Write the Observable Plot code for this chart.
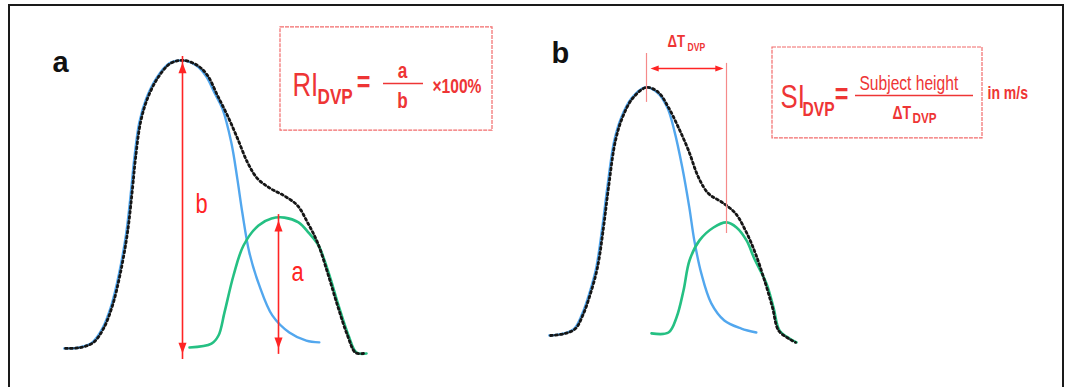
<!DOCTYPE html>
<html>
<head>
<meta charset="utf-8">
<script src="https://cdn.jsdelivr.net/npm/d3@7"></script>
<script src="https://cdn.jsdelivr.net/npm/@observablehq/plot@0.6"></script>
<style>
  html, body { margin: 0; padding: 0; background: #fff; }
  #wrap { position: relative; width: 1065px; height: 387px; overflow: hidden; }
  #frame { position: absolute; left: 8px; top: 4px; width: 1056px; height: 420px;
           border: 2px solid #1a1a1a; box-sizing: border-box; pointer-events: none; }
  #chart { position: absolute; left: 0; top: 0; }
</style>
</head>
<body>
<div id="wrap"><div id="chart"></div><div id="frame"></div></div>
<script>
// ---- Data (time in ms, amplitude in arbitrary units) ----
// Panel a: whole digital volume pulse (black dotted)
const dvpA_t = [195,240,279,309,336,360,381,396,405,420,441,471,510,549,591,621,651,681,711,741,771,810,849,891,921,951,981,1011,1041,1065,1089];
const dvpA_v = [0.7,1.0,2.7,7.3,15,26,39.3,54,64,76,84,90.7,95.7,96.7,95,91.7,85,78.3,70.7,62.7,57.3,54,51.7,48.3,42.7,36,26,15,5,-0.7,-1];
// Panel a: forward (systolic) component (blue)
const fwdA_t = [195,240,279,309,336,360,381,396,405,420,441,471,510,549,591,621,645,669,696,714,729,750,780,819,870,921,960];
const fwdA_v = [0.7,1.0,2.7,7.3,15,26,39.3,54,64,76,84,90.7,95.7,96.7,95,91.3,86,80.7,69.3,57.3,46,32.7,21.7,11.7,6,3.3,2.7];
// Panel a: reflected (diastolic) component (green)
const refA_t = [564,630,651,669,696,726,771,810,849,891,921,951,981,1011,1041,1065,1095];
const refA_v = [1,2.3,5,12.7,25,35,41.7,44,44.3,42.7,39.3,35,26,15,5,-0.7,-1];

// Panel b: whole pulse (black dotted)
const dvpB_t = [1650,1695,1725,1749,1770,1791,1809,1824,1845,1866,1896,1938,1974,2004,2034,2064,2094,2124,2166,2205,2235,2265,2295,2316,2334,2364,2385];
const dvpB_v = [5,5.7,7.3,12.3,19,27.7,41,54.3,70,77.7,84,87.7,86,81,74.3,66.7,57.7,52.3,49.3,45.7,40,32.3,22.3,14.3,6.7,4,2.7];
// Panel b: forward component (blue)
const fwdB_t = [1650,1695,1725,1749,1770,1791,1809,1824,1845,1866,1896,1938,1974,2004,2025,2049,2070,2085,2106,2136,2175,2226,2271];
const fwdB_v = [5,5.7,7.3,12.3,19,27.7,41,54.3,70,77.7,84,87.7,86,81,73.3,61,47.7,36.7,25.7,15.7,10,7.3,6];
// Panel b: reflected component (green)
const refB_t = [1950,2001,2025,2046,2064,2094,2136,2175,2205,2235,2259,2295,2316,2334,2364,2385];
const refB_v = [5.7,6,11,20,30,36.7,41,42.7,41,36.7,30.5,22.3,14.3,6.7,4,2.7];

// Measured quantities
const riLabels = ["b", "a"];            // b = systolic peak height, a = diastolic peak height
const riTime   = [546, 834];
const riFrom   = [-1, 0.7];
const riTo     = [96, 43.3];
const dtPeaks  = [1938, 2178];          // systolic / diastolic peak times (panel b)
const dtTop    = [99, 95.7];
const dtBottom = [82.7, 39];

// ---- build tables ----
const zip = (ts, vs, series) => ts.map((t, i) => ({t, v: vs[i], series}));
const dvpA = zip(dvpA_t, dvpA_v, "a"), fwdA = zip(fwdA_t, fwdA_v, "a"), refA = zip(refA_t, refA_v, "a");
const dvpB = zip(dvpB_t, dvpB_v, "b"), fwdB = zip(fwdB_t, fwdB_v, "b"), refB = zip(refB_t, refB_v, "b");
const riArrows = riLabels.map((l, i) => ({l, t: riTime[i], y1: riFrom[i], y2: riTo[i]}));
const dtLines = dtPeaks.map((t, i) => ({t, y1: dtBottom[i], y2: dtTop[i]}));
const dtArrow = [{x1: 1950, x2: 2169, v: 94}];

// ---- styles ----
const RED = "#ff2424", TXT = "#ee3535", BOX = "#f26b6b", PALE = "#f58a8a";
const BLUE = "#52a7ee", GREEN = "#25c083", BLACK = "#161616";
const NARROW = "'Liberation Sans Narrow','Liberation Sans',Arial,sans-serif";
const SANS = "'Liberation Sans',Arial,sans-serif";

// arrowhead symbols with the tip at the origin
const head = (dx, dy) => ({
  draw(ctx, size) {
    const r = Math.sqrt(size / Math.PI);
    const L = 2.4 * r, W = 0.9 * r;
    ctx.moveTo(0, 0);
    ctx.lineTo(-dx * L - dy * W, -dy * L + dx * W);
    ctx.lineTo(-dx * L + dy * W, -dy * L - dx * W);
    ctx.closePath();
  }
});
const UP = head(0, -1), DOWN = head(0, 1), LEFT = head(-1, 0), RIGHT = head(1, 0);

const txt = (s, t, v, o = {}) => Plot.text([{s, t, v}], {
  x: "t", y: "v", text: "s", lineAnchor: "bottom", textAnchor: "start",
  fill: TXT, fontFamily: NARROW, ...o
});

const curveOpts = {x: "t", y: "v", curve: "catmull-rom"};

const chart = Plot.plot({
  width: 1065, height: 387,
  marginTop: 0, marginRight: 0, marginBottom: 0, marginLeft: 0,
  x: {domain: [0, 3195], axis: null},
  y: {domain: [-37 / 3, 350 / 3], axis: null},
  style: {background: "transparent", overflow: "visible"},
  marks: [
    // formula boxes
    Plot.rect([{x1: 840, x2: 1476, y1: 73.3, y2: 107.7}, {x1: 2316, x2: 2946, y1: 70.7, y2: 101}],
      {x1: "x1", x2: "x2", y1: "y1", y2: "y2", fill: "none", stroke: BOX, strokeWidth: 1.2, strokeDasharray: "4 1"}),

    // components and pulses
    Plot.line([...fwdA, ...fwdB], {...curveOpts, z: "series", stroke: BLUE, strokeWidth: 2.4, dx: -1.2}),
    Plot.line([...refA, ...refB], {...curveOpts, z: "series", stroke: GREEN, strokeWidth: 2.6, dx: 1}),
    Plot.line([...dvpA, ...dvpB], {...curveOpts, z: "series", stroke: BLACK, strokeWidth: 2.8,
      strokeDasharray: "2,3"}),

    // RI arrows (panel a)
    Plot.ruleX(riArrows, {x: "t", y1: "y1", y2: "y2", stroke: RED, strokeWidth: 1.6, insetTop: 6, insetBottom: 6}),
    Plot.dot(riArrows, {x: "t", y: "y2", symbol: UP, r: 4.5, fill: RED, stroke: null}),
    Plot.dot(riArrows, {x: "t", y: "y1", symbol: DOWN, r: 4.5, fill: RED, stroke: null}),
    Plot.text(riArrows, {x: d => d.t + 39, y: d => (d.l === "b" ? 46 : 23.3), text: "l",
      fill: RED, fontFamily: NARROW, fontSize: 28, lineAnchor: "bottom", textAnchor: "start"}),

    // ΔT lines (panel b)
    Plot.ruleX(dtLines, {x: "t", y1: "y1", y2: "y2", stroke: PALE, strokeWidth: 1.2}),
    Plot.ruleY(dtArrow, {y: "v", x1: "x1", x2: "x2", stroke: RED, strokeWidth: 1.4, insetLeft: 4, insetRight: 4}),
    Plot.dot(dtArrow, {x: "x1", y: "v", symbol: LEFT, r: 3.4, fill: RED, stroke: null}),
    Plot.dot(dtArrow, {x: "x2", y: "v", symbol: RIGHT, r: 3.4, fill: RED, stroke: null}),
    txt("ΔT", 2001, 101.3, {fontSize: 17, fontWeight: "bold"}),
    txt("DVP", 2061, 100, {fontSize: 11, fontWeight: "bold"}),

    // panel letters
    txt("a", 156, 93, {fill: "#111", fontFamily: SANS, fontSize: 29, fontWeight: "bold"}),
    txt("b", 1653, 95.7, {fill: "#111", fontFamily: SANS, fontSize: 29, fontWeight: "bold"}),

    // RI formula
    txt("RI", 876, 85, {fontSize: 33}),
    txt("DVP", 951, 82.3, {fontSize: 22, fontWeight: "bold"}),
    txt("=", 1089, 86.3, {fontSize: 30, textAnchor: "middle", fontWeight: "bold"}),
    Plot.ruleY([89], {x1: 1149, x2: 1269, stroke: TXT, strokeWidth: 1.3}),
    txt("a", 1206, 91, {fontSize: 22, fontWeight: "bold", textAnchor: "middle"}),
    txt("b", 1206, 80.7, {fontSize: 22, fontWeight: "bold", textAnchor: "middle"}),
    txt("×100%", 1296, 86, {fontSize: 20, fontWeight: "bold"}),

    // SI formula
    txt("SI", 2340, 81, {fontSize: 33}),
    txt("DVP", 2406, 78.3, {fontSize: 20, fontWeight: "bold"}),
    txt("=", 2523, 82.3, {fontSize: 30, textAnchor: "middle", fontWeight: "bold"}),
    txt("Subject height", 2725, 86.7, {fontSize: 20, textAnchor: "middle"}),
    Plot.ruleY([85], {x1: 2565, x2: 2919, stroke: TXT, strokeWidth: 1.3}),
    txt("ΔT", 2676, 77.3, {fontSize: 18, fontWeight: "bold"}),
    txt("DVP", 2736, 76, {fontSize: 15, fontWeight: "bold"}),
    txt("in m/s", 2961, 84, {fontSize: 18, fontWeight: "bold"})
  ]
});
document.getElementById("chart").appendChild(chart);

// condense the formula lettering (the source uses a narrow face)
chart.querySelectorAll("g[font-family*='Narrow'] text").forEach(t => {
  const tr = t.getAttribute("transform");
  if (tr) t.setAttribute("transform", tr + " scale(0.78,1)");
});
</script>
</body>
</html>
